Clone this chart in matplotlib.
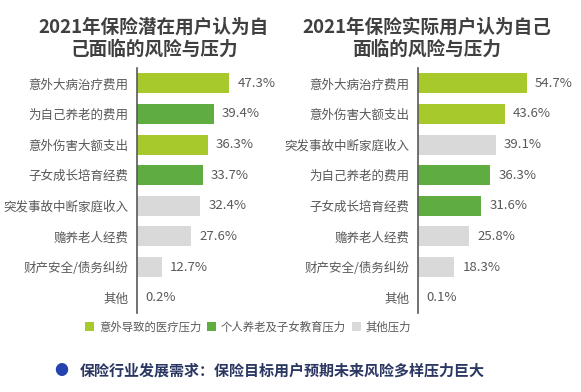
import matplotlib.pyplot as plt
from matplotlib.patches import Patch

plt.rcParams['font.family'] = ['Noto Sans CJK SC', 'DejaVu Sans']

# data
left_title = "2021年保险潜在用户认为自\n己面临的风险与压力"
left_cats = ["意外大病治疗费用", "为自己养老的费用", "意外伤害大额支出", "子女成长培育经费",
             "突发事故中断家庭收入", "赡养老人经费", "财产安全/债务纠纷", "其他"]
left_vals = [47.3, 39.4, 36.3, 33.7, 32.4, 27.6, 12.7, 0.2]
left_group = [0, 1, 0, 1, 2, 2, 2, 2]

right_title = "2021年保险实际用户认为自己\n面临的风险与压力"
right_cats = ["意外大病治疗费用", "意外伤害大额支出", "突发事故中断家庭收入", "为自己养老的费用",
              "子女成长培育经费", "赡养老人经费", "财产安全/债务纠纷", "其他"]
right_vals = [54.7, 43.6, 39.1, 36.3, 31.6, 25.8, 18.3, 0.1]
right_group = [0, 0, 2, 1, 1, 2, 2, 2]

group_names = ["意外导致的医疗压力", "个人养老及子女教育压力", "其他压力"]
group_colors = ["#A7C92C", "#5FAD41", "#D9D9D9"]
text_color = "#595959"

W, H = 581, 392
fig = plt.figure(figsize=(W / 100, H / 100), dpi=100)


def draw(ax, cats, vals, groups, xmax):
    y = range(len(cats))
    ax.barh(y, vals, height=0.65, color=[group_colors[g] for g in groups])
    ax.set_ylim(len(cats) - 0.5, -0.5)
    ax.set_xlim(0, xmax)
    ax.set_yticks(list(y))
    ax.set_yticklabels(cats, fontsize=9, color=text_color)
    ax.tick_params(axis='y', length=0, pad=6)
    ax.set_xticks([])
    for s in ['top', 'right', 'bottom']:
        ax.spines[s].set_visible(False)
    ax.spines['left'].set_color('#595959')
    ax.spines['left'].set_linewidth(1.2)
    for i, v in enumerate(vals):
        ax.annotate(f"{v}%", (v, i), xytext=(6, 0), textcoords='offset points',
                    va='center', ha='left', fontsize=9.5, color=text_color)


bottom = 1 - 313 / H
height = (313 - 68) / H
ax1 = fig.add_axes([137 / W, bottom, 153 / W, height])
draw(ax1, left_cats, left_vals, left_group, 78.7)
ax2 = fig.add_axes([418 / W, bottom, 163 / W, height])
draw(ax2, right_cats, right_vals, right_group, 82)

fig.text(154 / W, 1 - 38 / H, left_title, ha='center', va='center', fontsize=13.4,
         fontweight='bold', color='#404040', linespacing=1.2)
fig.text(427 / W, 1 - 38 / H, right_title, ha='center', va='center', fontsize=13.4,
         fontweight='bold', color='#404040', linespacing=1.2)

handles = [Patch(facecolor=c, edgecolor='none') for c in group_colors]
fig.legend(handles, group_names, loc='center', bbox_to_anchor=(248 / W, 1 - 327 / H),
           ncol=3, frameon=False, fontsize=8.2, handlelength=0.8, handleheight=0.8,
           handletextpad=0.4, columnspacing=0.5, labelcolor=text_color)

fig.text(61 / W, 1 - 371 / H, "●", ha='center', va='center', fontsize=10, color='#2442B0')
fig.text(80 / W, 1 - 371 / H, "保险行业发展需求：保险目标用户预期未来风险多样压力巨大",
         ha='left', va='center', fontsize=10.8, fontweight='bold', color='#2B3763')

fig.savefig("out.png", dpi=100)
